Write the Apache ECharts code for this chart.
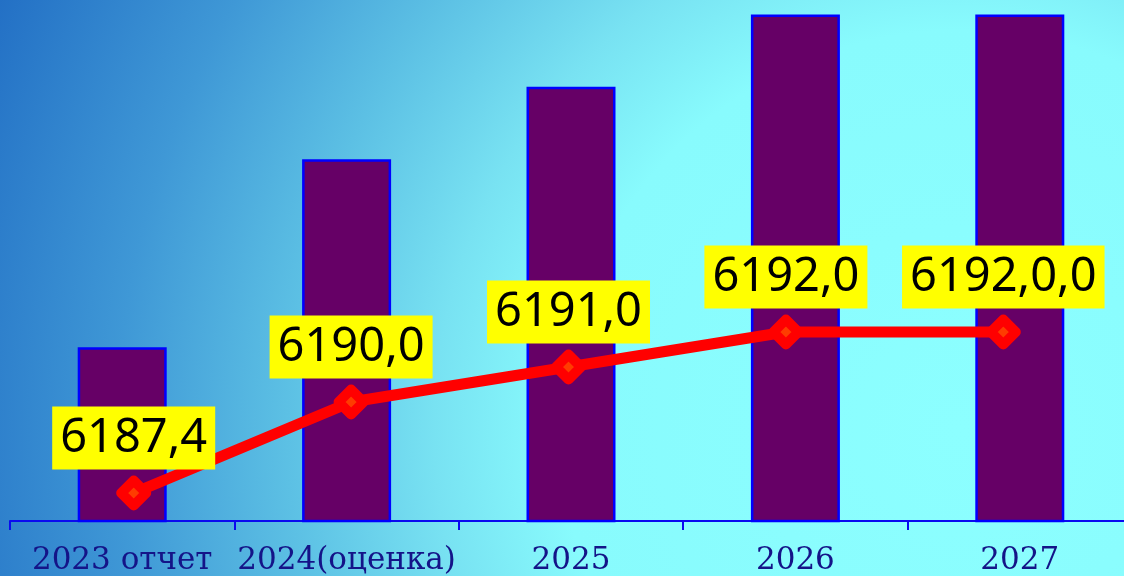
<!DOCTYPE html>
<html>
<head>
<meta charset="utf-8">
<script src="https://cdn.jsdelivr.net/npm/echarts@6/dist/echarts.min.js"></script>
<style>
  html, body { margin: 0; padding: 0; overflow: hidden; width: 1124px; height: 576px; }
  /* чуть шире окна: последний столбец уходит за правый край */
  #chart { width: 1132px; height: 576px; }
</style>
</head>
<body>
<div id="chart"></div>
<script>
// данные
var categories = ['2023 отчет', '2024(оценка)', '2025', '2026', '2027'];
var barValues = [6187.4, 6190.0, 6191.0, 6192.0, 6192.0];
var lineValues = [6187.4, 6190.0, 6191.0, 6192.0, 6192.0];
var lineLabels = ['6187,4', '6190,0', '6191,0', '6192,0', '6192,0,0'];

var myChart = echarts.init(document.getElementById('chart'));

var option = {
    animation: false,
    backgroundColor: {
        type: 'radial',
        global: true,
        x: 960, y: 430, r: 1052,
        colorStops: [
            { offset: 0, color: '#8cffff' },
            { offset: 0.38, color: '#88fbfd' },
            { offset: 0.5, color: '#78e2f2' },
            { offset: 0.64, color: '#5cc0e4' },
            { offset: 0.8, color: '#3f98d6' },
            { offset: 1, color: '#2370c5' }
        ]
    },
    grid: [
        { left: 10, right: 0, top: 0, bottom: 54 },    // столбцы
        { left: 25, right: 20, top: 0, bottom: 54 }    // линия
    ],
    xAxis: [{
        type: 'category',
        gridIndex: 0,
        data: categories,
        axisLine: { show: true, lineStyle: { color: '#0a0af0', width: 2 } },
        axisTick: { show: true, alignWithLabel: false, interval: 0, length: 9, lineStyle: { color: '#0a0af0', width: 2 } },
        axisLabel: {
            margin: 24,
            color: '#141488',
            fontFamily: 'DejaVu Serif',
            fontSize: 31,
            interval: 0
        }
    }, {
        type: 'category',
        gridIndex: 1,
        data: categories,
        show: false
    }],
    yAxis: [{
        type: 'value',
        gridIndex: 0,
        min: 6185,
        max: 6192.2,
        show: false
    }, {
        type: 'value',
        gridIndex: 1,
        min: 6186.571,
        max: 6201.486,
        show: false
    }],
    series: [{
        type: 'bar',
        xAxisIndex: 0,
        yAxisIndex: 0,
        data: barValues,
        barWidth: 89,
        itemStyle: { color: '#660066', borderColor: '#0000ff', borderWidth: 2.5 }
    }, {
        type: 'line',
        xAxisIndex: 1,
        yAxisIndex: 1,
        data: lineValues,
        z: 5,
        lineStyle: { color: '#ff0000', width: 11 },
        symbol: 'diamond',
        symbolSize: 25,
        itemStyle: { color: '#ff3c00', borderColor: '#ff0000', borderWidth: 10, borderJoin: 'round' },
        label: {
            show: true,
            position: 'top',
            distance: 6,
            formatter: function (p) { return lineLabels[p.dataIndex]; },
            color: '#000',
            fontFamily: 'Noto Sans',
            fontSize: 47,
            lineHeight: 52,
            backgroundColor: '#ffff00',
            padding: [6, 8, 5, 8]
        }
    }]
};
myChart.setOption(option);
</script>
</body>
</html>
